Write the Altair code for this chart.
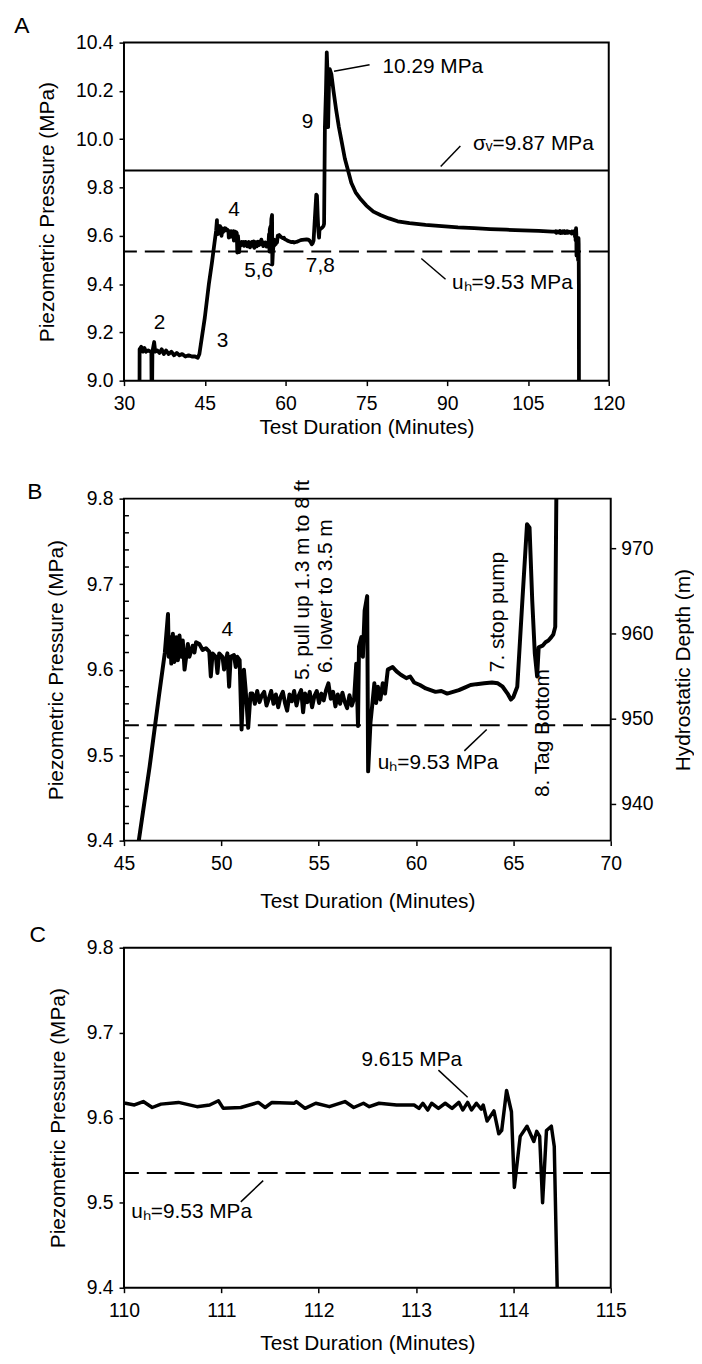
import altair as alt
import pandas as pd

FONT = "Liberation Sans"

# ---------------- pressure record: minutes / MPa ----------------
t_fill = [32.88, 32.9, 33.2, 33.5, 33.8, 34.1, 34.5, 34.9, 35.08, 35.12, 35.22, 35.28, 35.6, 35.8,
          36.2, 36.6, 37.0, 37.4, 37.8, 38.3, 38.8, 39.3, 39.8, 40.3, 40.8, 41.4, 42.0, 42.6,
          43.2, 43.7, 44.0, 45.0]
p_fill = [8.95, 9.13, 9.14, 9.12, 9.135, 9.12, 9.125, 9.12, 9.12, 8.95, 8.95, 9.12, 9.16, 9.12,
          9.125, 9.115, 9.13, 9.11, 9.125, 9.11, 9.12, 9.105, 9.115, 9.105, 9.11, 9.1, 9.105, 9.1,
          9.1, 9.095, 9.11, 9.26]

t_hold = [45.76, 46.32, 46.8, 47.1, 47.26, 47.30, 47.38, 47.43, 47.51, 47.59, 47.68, 47.77, 47.85,
          47.94, 48.02, 48.11, 48.28, 48.36, 48.53, 48.62, 48.70, 48.87, 49.04, 49.21, 49.38, 49.46,
          49.55, 49.72, 49.80, 49.89, 50.06, 50.14, 50.31, 50.40, 50.48, 50.65, 50.74, 50.82, 50.94,
          51.04, 51.16, 51.25, 51.38, 51.50,
          51.60, 51.72, 51.84, 51.96, 52.08, 52.20, 52.32, 52.44, 52.56, 52.68, 52.80, 52.92, 53.04,
          53.16, 53.28, 53.38, 53.50, 53.62, 53.74, 53.86, 53.98, 54.10, 54.20, 54.30, 54.42, 54.54,
          54.66, 54.78, 54.90, 55.02, 55.14, 55.26, 55.38, 55.50, 55.62, 55.74, 55.86, 55.98, 56.10,
          56.22, 56.34, 56.46, 56.58, 56.70, 56.82,
          56.93, 57.02, 57.07, 57.19, 57.27, 57.36, 57.49, 57.54, 57.66, 57.78, 57.86, 57.95, 58.04,
          58.17, 58.29, 58.41, 58.55, 58.80, 59.0, 59.22, 59.5, 59.7, 59.9, 60.2, 60.5, 60.75, 61.0,
          61.3, 61.6, 61.9, 62.2, 62.5, 62.8, 63.1, 63.5, 63.9, 64.2, 64.45, 64.7, 64.87, 65.0,
          65.2, 65.46, 65.7, 65.83, 65.97, 66.1, 66.22, 66.3, 66.5, 66.65, 66.8, 66.95, 67.05, 67.15]
p_hold = [9.40, 9.487, 9.57, 9.62, 9.665, 9.615, 9.638, 9.607, 9.642, 9.609, 9.638, 9.611, 9.64,
          9.615, 9.634, 9.60, 9.63, 9.615, 9.628, 9.62, 9.632, 9.63, 9.623, 9.625, 9.621, 9.592,
          9.619, 9.615, 9.596, 9.619, 9.615, 9.60, 9.619, 9.58, 9.615, 9.617, 9.603, 9.615, 9.611,
          9.53, 9.60, 9.576, 9.532, 9.572,
          9.572, 9.560, 9.575, 9.562, 9.570, 9.574, 9.558, 9.566, 9.575, 9.560, 9.571, 9.556, 9.568,
          9.574, 9.560, 9.552, 9.571, 9.563, 9.575, 9.558, 9.570, 9.576, 9.550, 9.572, 9.562, 9.574,
          9.556, 9.569, 9.575, 9.561, 9.572, 9.564, 9.576, 9.584, 9.566, 9.574, 9.557, 9.571, 9.560,
          9.573, 9.562, 9.555, 9.570, 9.558, 9.566,
          9.607, 9.534, 9.627, 9.638, 9.615, 9.669, 9.686, 9.481, 9.538, 9.565, 9.584, 9.561, 9.58,
          9.565, 9.584, 9.572, 9.600, 9.603, 9.598, 9.594, 9.590, 9.592, 9.585, 9.582, 9.578, 9.576,
          9.574, 9.575, 9.572, 9.574, 9.576, 9.579, 9.582, 9.583, 9.584, 9.585, 9.584, 9.580, 9.572,
          9.565, 9.568, 9.58, 9.68, 9.77, 9.766, 9.68, 9.619, 9.592, 9.626, 9.628, 9.632, 9.634,
          9.638, 9.641, 9.65]

t_peak = [67.3, 67.5, 67.65, 67.75, 67.9, 68.05, 68.2, 68.5, 68.9, 69.4, 69.9, 70.5, 71.0, 71.6,
          72.2, 73.0, 74.0, 75.0, 76.3, 77.7, 79.2, 80.8, 83.0, 86.0, 89.0, 92.0, 95.0, 98.0,
          101.0, 104.0, 107.0, 109.5]
p_peak = [10.05, 10.2, 10.36, 10.30, 10.05, 10.22, 10.29, 10.27, 10.2, 10.12, 10.05, 9.98, 9.92, 9.87,
          9.82, 9.78, 9.75, 9.725, 9.70, 9.685, 9.672, 9.66, 9.652, 9.645, 9.64, 9.635, 9.632, 9.628,
          9.625, 9.622, 9.62, 9.617]

t_end = [110.016, 110.107, 110.198, 110.29, 110.38, 110.56, 110.75, 110.88, 110.97, 111.02, 111.2,
         111.38, 111.45, 111.52, 111.75, 111.77, 111.86, 111.97, 112.11, 112.27, 112.36, 112.46,
         112.52, 112.62, 112.8, 112.98, 113.03, 113.07, 113.12, 113.16, 113.23, 113.3, 113.37,
         113.44, 113.48, 113.53, 113.57, 113.62, 113.67, 113.69, 113.73, 113.8, 113.85, 113.88,
         113.93, 113.98, 114.01, 114.07, 114.14, 114.21, 114.24, 114.27, 114.3, 114.34, 114.39,
         114.42, 114.45, 114.47]
p_end = [9.617, 9.615, 9.619, 9.612, 9.616, 9.618, 9.613, 9.615, 9.62, 9.611, 9.612,
         9.618, 9.612, 9.618, 9.617, 9.619, 9.611, 9.617, 9.613, 9.619, 9.612, 9.617,
         9.613, 9.617, 9.615, 9.615, 9.611, 9.617, 9.609, 9.617, 9.611, 9.617, 9.611,
         9.618, 9.609, 9.618, 9.609, 9.617, 9.61, 9.615, 9.596, 9.608, 9.581, 9.585,
         9.632, 9.607, 9.518, 9.578, 9.590, 9.572, 9.584, 9.578, 9.50, 9.585, 9.59,
         9.566, 9.40, 8.95]

# reference pressures
u_h = 9.535
sigma_v = 9.87

# ---------------- axes ----------------
a_x_ticks = [30, 45, 60, 75, 90, 105, 120]
a_y_ticks = [9.0, 9.2, 9.4, 9.6, 9.8, 10.0, 10.2, 10.4]
b_x_ticks = [45, 50, 55, 60, 65, 70]
b_y_ticks = [9.4, 9.5, 9.6, 9.7, 9.8]
b_y_minor = [9.42, 9.44, 9.46, 9.48, 9.52, 9.54, 9.56, 9.58, 9.62, 9.64, 9.66, 9.68,
             9.72, 9.74, 9.76, 9.78]
b_depth_ticks = [940, 950, 960, 970]
b_depth_domain = [935.7, 975.8]
c_x_ticks = [110, 111, 112, 113, 114, 115]
c_y_ticks = [9.4, 9.5, 9.6, 9.7, 9.8]

# ---------------- annotations ----------------
a_num_text = ["2", "3", "4", "5,6", "7,8", "9"]
a_num_x = [36.6, 48.3, 50.45, 55.0, 66.45, 64.1]
a_num_y = [9.24, 9.164, 9.705, 9.452, 9.476, 10.072]
a_note_text = ["10.29 MPa", "σᵥ=9.87 MPa", "uₕ=9.53 MPa"]
a_note_x = [78.0, 94.8, 90.9]
a_note_y = [10.30, 9.978, 9.404]
a_lead_x = [69.0, 88.8, 85.2]
a_lead_y = [10.281, 9.887, 9.506]
a_lead_x2 = [75.6, 92.45, 89.7]
a_lead_y2 = [10.308, 9.972, 9.42]

b_num_text = ["4"]
b_num_x = [50.31]
b_num_y = [9.646]
b_rot_text = ["5. pull up 1.3 m to 8 ft", "6. lower to 3.5 m", "7. stop pump", "8. Tag Bottom"]
b_rot_x = [54.22, 55.4, 64.23, 66.52]
b_rot_y = [9.588, 9.596, 9.597, 9.451]
b_note_text = ["uₕ=9.53 MPa"]
b_note_x = [58.03]
b_note_y = [9.491]
b_lead_x = [63.63]
b_lead_y = [9.53]
b_lead_x2 = [62.48]
b_lead_y2 = [9.505]

c_note_text = ["9.615 MPa", "uₕ=9.53 MPa"]
c_note_x = [112.44, 110.075]
c_note_y = [9.668, 9.489]
c_lead_x = [113.23, 111.43]
c_lead_y = [9.656, 9.526]
c_lead_x2 = [113.53, 111.2]
c_lead_y2 = [9.624, 9.501]

minutes = t_fill + t_hold + t_peak + t_end
pressure = p_fill + p_hold + p_peak + p_end
series = pd.DataFrame({"t": minutes, "p": pressure, "i": list(range(len(minutes)))})

one = pd.DataFrame({"k": [0]})


def panel(xdom, ydom, xticks, yticks, w, h, xtitle_y, ytitle_x, lw,
          letter, letter_x, letter_y, top_ext, bot_ext,
          nums, notes, leads, hlines, minor=None, rot=None):
    xs = alt.Scale(domain=xdom, nice=False, zero=False)
    ys = alt.Scale(domain=ydom, nice=False, zero=False)
    ax_x = alt.Axis(values=xticks, title="Test Duration (Minutes)",
                    titleY=xtitle_y, titleBaseline="middle", labelPadding=9)
    ax_y = alt.Axis(values=yticks, format=".1f", title="Piezometric Pressure (MPa)",
                    titleX=ytitle_x, titleBaseline="middle", labelPadding=6)

    def X(f):
        return alt.X(f, scale=xs, axis=ax_x)

    def Y(f):
        return alt.Y(f, scale=ys, axis=ax_y)

    layers = []
    # pressure trace
    layers.append(
        alt.Chart(series).mark_line(color="black", strokeWidth=lw, clip=True,
                                    strokeJoin="round", strokeCap="round").encode(
            x=X("t:Q"), y=Y("p:Q"), order=alt.Order("i:Q"))
    )
    # reference lines
    for val, dashed in hlines:
        kw = dict(color="black", strokeWidth=2)
        if dashed:
            kw["strokeDash"] = [20, 8]
        layers.append(alt.Chart(pd.DataFrame({"p": [val]})).mark_rule(**kw).encode(y=Y("p:Q")))
    if minor is not None:
        layers.append(alt.Chart(pd.DataFrame({"p": minor})).mark_rule(color="black", strokeWidth=1.5).encode(
            x=alt.value(0), x2=alt.value(5), y=Y("p:Q")))
    lx, ly, lx2, ly2 = leads
    layers.append(alt.Chart(pd.DataFrame({"t": lx, "p": ly, "t2": lx2, "p2": ly2})).mark_rule(
        color="black", strokeWidth=1.5).encode(x=X("t:Q"), y=Y("p:Q"), x2="t2:Q", y2="p2:Q"))
    if nums is not None:
        nt, nx, ny = nums
        layers.append(alt.Chart(pd.DataFrame({"s": nt, "t": nx, "p": ny})).mark_text(
            align="center", baseline="middle", fontSize=21, font=FONT).encode(
            x=X("t:Q"), y=Y("p:Q"), text="s:N"))
    st, sx, sy = notes
    layers.append(alt.Chart(pd.DataFrame({"s": st, "t": sx, "p": sy})).mark_text(
        align="left", baseline="middle", fontSize=21, font=FONT).encode(
        x=X("t:Q"), y=Y("p:Q"), text="s:N"))
    if rot is not None:
        rt, rx, ry = rot
        layers.append(alt.Chart(pd.DataFrame({"s": rt, "t": rx, "p": ry})).mark_text(
            align="left", baseline="middle", angle=270, fontSize=21, font=FONT).encode(
            x=X("t:Q"), y=Y("p:Q"), text="s:N"))
    # panel letter
    layers.append(alt.Chart(one).mark_text(text=letter, align="center", baseline="middle",
                                           fontSize=23, font=FONT).encode(
        x=alt.value(letter_x), y=alt.value(letter_y)))
    # invisible layout anchor
    layers.append(alt.Chart(one).mark_rule(strokeOpacity=0, opacity=0).encode(
        x=alt.value(-116), y=alt.value(-top_ext), y2=alt.value(h + bot_ext)))
    return alt.layer(*layers).properties(width=w, height=h)


A = panel([30, 120], [9.0, 10.4], a_x_ticks, a_y_ticks, 489, 341, 47, -77, 3.8,
          "A", -103, -17, 26, 62,
          (a_num_text, a_num_x, a_num_y), (a_note_text, a_note_x, a_note_y),
          (a_lead_x, a_lead_y, a_lead_x2, a_lead_y2),
          [(sigma_v, False), (u_h, True)])

B_inner = panel([45, 70], [9.4, 9.8], b_x_ticks, b_y_ticks, 491, 345, 61, -68, 4.0,
                "B", -90, -7, 55, 72,
                (b_num_text, b_num_x, b_num_y), (b_note_text, b_note_x, b_note_y),
                (b_lead_x, b_lead_y, b_lead_x2, b_lead_y2),
                [(u_h, True)], minor=b_y_minor,
                rot=(b_rot_text, b_rot_x, b_rot_y))
depth = alt.Chart(pd.DataFrame({"d": b_depth_ticks})).mark_point(opacity=0).encode(
    y=alt.Y("d:Q", scale=alt.Scale(domain=b_depth_domain, nice=False, zero=False),
            axis=alt.Axis(orient="right", values=b_depth_ticks, title="Hydrostatic Depth (m)",
                          titleX=73, titleAngle=270, titleBaseline="middle", labelPadding=5)))
B = alt.layer(B_inner, depth).resolve_scale(y="independent").properties(width=491, height=345)

C = panel([110, 115], [9.4, 9.8], c_x_ticks, c_y_ticks, 491, 343, 56, -66, 3.5,
          "C", -87, -13, 34, 62,
          None, (c_note_text, c_note_x, c_note_y),
          (c_lead_x, c_lead_y, c_lead_x2, c_lead_y2),
          [(u_h, True)])

chart = alt.vconcat(A, B, C, spacing=0, padding=0).configure_view(
    stroke="black", strokeWidth=2
).configure_axis(
    grid=False, domain=False, ticks=True, tickColor="black", tickSize=5, tickWidth=1.5,
    labelFont=FONT, labelFontSize=19.5, labelColor="black", labelFlush=False,
    titleFont=FONT, titleFontSize=21, titleFontWeight="normal", titleColor="black",
).configure_text(font=FONT, color="black")

chart.save("out.html", embed_options={"renderer": "svg", "actions": False})
